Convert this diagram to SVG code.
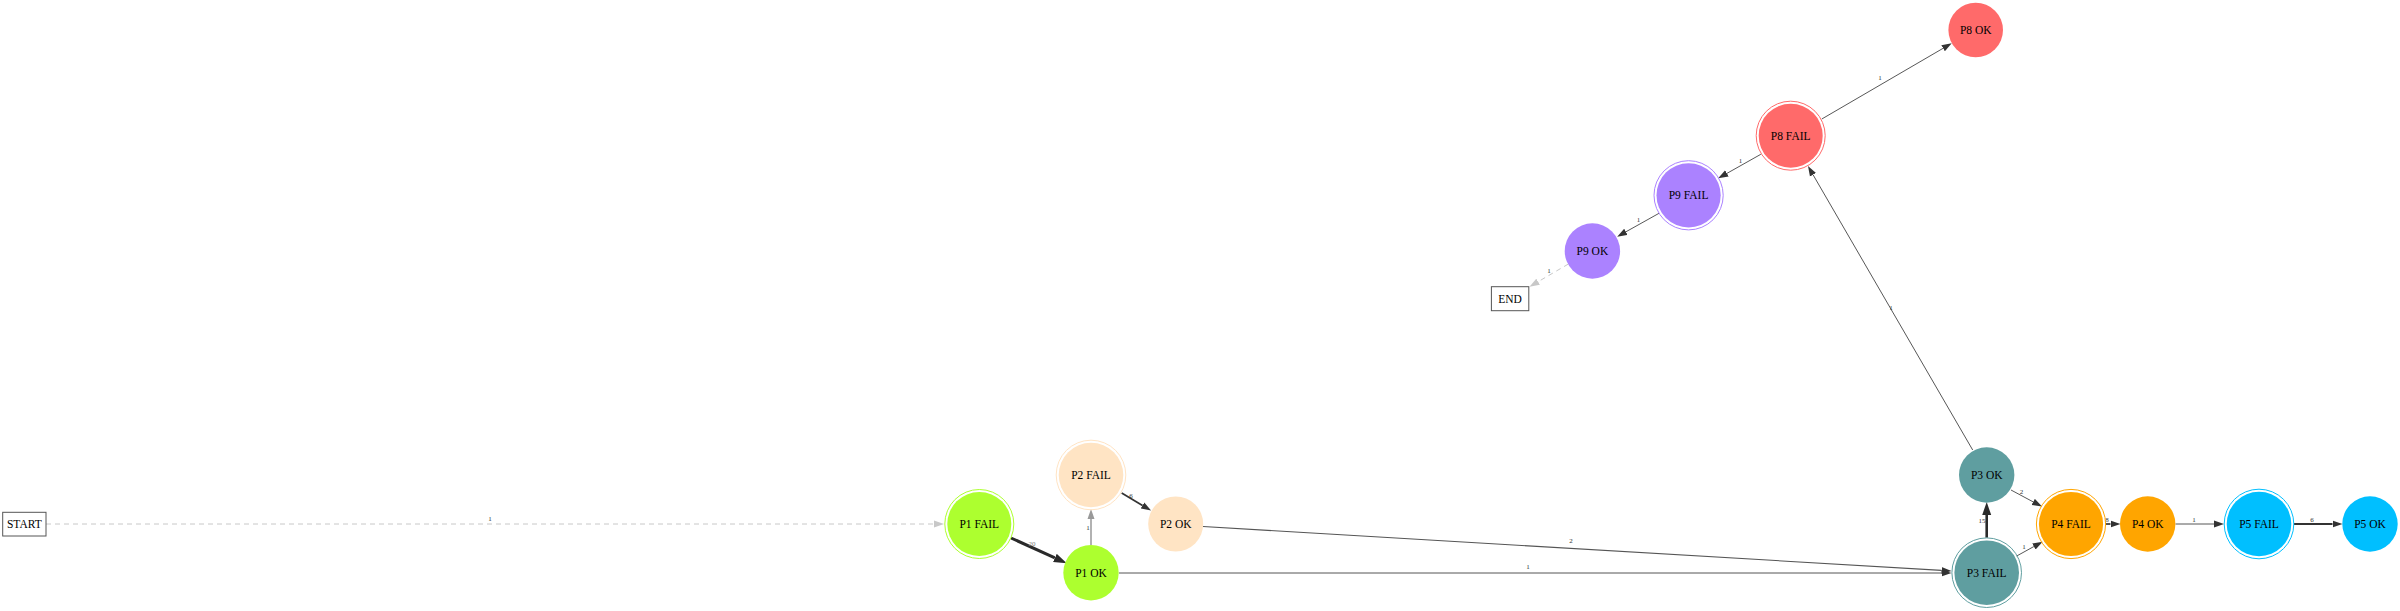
<svg xmlns="http://www.w3.org/2000/svg" width="2400" height="611" viewBox="0 0 2400 611">
<style>
  .lbl { font-family: "Liberation Serif", "Times New Roman", serif; font-size: 11.5px; fill: #000; text-anchor: middle; dominant-baseline: central; }
  .el { font-family: "Liberation Serif", "Times New Roman", serif; font-size: 7px; fill: #333; text-anchor: middle; }
  .e { fill: none; stroke: #444; stroke-width: 0.9; }
  .dash { fill: none; stroke: #c8c8c8; stroke-width: 1; stroke-dasharray: 5 4; }
  .box { fill: #fff; stroke: #555; stroke-width: 1; }
  .ring { fill: none; stroke-width: 1; }
</style>
<defs>
  <marker id="arr" markerUnits="userSpaceOnUse" markerWidth="10" markerHeight="8" refX="0" refY="3.5" orient="auto" viewBox="0 0 10 7">
    <path d="M0,0 L10,3.5 L0,7 Z" fill="#333"/>
  </marker>
  <marker id="arrL" markerUnits="userSpaceOnUse" markerWidth="13" markerHeight="10" refX="0" refY="4.5" orient="auto" viewBox="0 0 13 9">
    <path d="M0,0 L13,4.5 L0,9 Z" fill="#2a2a2a"/>
  </marker>
  <marker id="arrG" markerUnits="userSpaceOnUse" markerWidth="10" markerHeight="8" refX="0" refY="3.5" orient="auto" viewBox="0 0 10 7">
    <path d="M0,0 L10,3.5 L0,7 Z" fill="#999"/>
  </marker>
  <marker id="arrD" markerUnits="userSpaceOnUse" markerWidth="10" markerHeight="8" refX="0" refY="3.5" orient="auto" viewBox="0 0 10 7">
    <path d="M0,0 L10,3.5 L0,7 Z" fill="#c8c8c8"/>
  </marker>
</defs>
<rect width="2400" height="611" fill="#fff"/>

<g id="connectors">
  <path class="dash" d="M46,524 L934,524" marker-end="url(#arrD)"/>
  <text class="el" x="490" y="521">1</text>

  <path class="e" style="stroke-width:3;stroke:#2a2a2a" d="M1011,538 L1054.9,557.9" marker-end="url(#arrL)"/>
  <text class="el" x="1032" y="546" style="fill:#777">20</text>

  <path class="e" style="stroke:#999;stroke-width:1.5" d="M1091,545 L1091,519" marker-end="url(#arrG)"/>
  <text class="el" x="1088" y="530">1</text>

  <path class="e" style="stroke-width:1.7;stroke:#333" d="M1121.7,493 L1142.5,505.4" marker-end="url(#arr)"/>
  <text class="el" x="1131" y="498">6</text>

  <path class="e" style="stroke:#555;stroke-width:1.1" d="M1203,526.5 L1941.5,570.4" marker-end="url(#arr)"/>
  <text class="el" x="1571" y="543">2</text>

  <path class="e" style="stroke:#555;stroke-width:1" d="M1119,573 L1941.5,573" marker-end="url(#arr)"/>
  <text class="el" x="1528" y="569">1</text>

  <path class="e" style="stroke-width:2.6;stroke:#2a2a2a" d="M1986.7,537.7 L1986.7,515" marker-end="url(#arrL)"/>
  <text class="el" x="1982" y="523">15</text>

  <path class="e" d="M2011,490 L2033.2,501.9" marker-end="url(#arr)"/>
  <text class="el" x="2021.5" y="494">2</text>

  <path class="e" d="M2016.7,556 L2033.9,546.5" marker-end="url(#arr)"/>
  <text class="el" x="2024" y="548.5">1</text>

  <path class="e" style="stroke-width:1.7;stroke:#333" d="M2106,524 L2110.5,524" marker-end="url(#arr)"/>
  <text class="el" x="2107" y="522">8</text>

  <path class="e" d="M2175.5,524 L2214,524" marker-end="url(#arr)"/>
  <text class="el" x="2194" y="522">1</text>

  <path class="e" style="stroke-width:1.9;stroke:#333" d="M2294,524 L2332.5,524" marker-end="url(#arr)"/>
  <text class="el" x="2312" y="522">6</text>

  <path class="e" d="M1972.7,450 L1813,174.7" marker-end="url(#arr)"/>
  <text class="el" x="1891" y="310">1</text>

  <path class="e" d="M1821.8,119 L1943.1,48.3" marker-end="url(#arr)"/>
  <text class="el" x="1880" y="80">1</text>

  <path class="e" d="M1760.8,154.3 L1726.9,173.4" marker-end="url(#arr)"/>
  <text class="el" x="1740.5" y="163">1</text>

  <path class="e" d="M1659,213.3 L1625.9,231.8" marker-end="url(#arr)"/>
  <text class="el" x="1638.5" y="222">1</text>

  <path class="dash" d="M1568.4,264 L1538.1,281.7" marker-end="url(#arrD)"/>
  <text class="el" x="1549" y="273">1</text>
</g>

<g id="START">
  <rect class="box" x="2.7" y="512.3" width="43.3" height="23.7"/>
  <text class="lbl" x="24.3" y="524.2">START</text>
</g>
<g id="END">
  <rect class="box" x="1491.4" y="286.7" width="37.4" height="24"/>
  <text class="lbl" x="1510.1" y="298.7">END</text>
</g>

<g id="P1_FAIL">
  <circle class="ring" cx="979.3" cy="524" r="34.5" stroke="#ADFF2F"/>
  <circle cx="979.3" cy="524" r="32" fill="#ADFF2F"/>
  <text class="lbl" x="979.3" y="524">P1 FAIL</text>
</g>
<g id="P1_OK">
  <circle cx="1091" cy="572.7" r="27.7" fill="#ADFF2F"/>
  <text class="lbl" x="1091" y="572.7">P1 OK</text>
</g>
<g id="P2_FAIL">
  <circle class="ring" cx="1091" cy="475" r="34.8" stroke="#FFE4C4"/>
  <circle cx="1091" cy="475" r="32.3" fill="#FFE4C4"/>
  <text class="lbl" x="1091" y="475">P2 FAIL</text>
</g>
<g id="P2_OK">
  <circle cx="1175.7" cy="524" r="27.5" fill="#FFE4C4"/>
  <text class="lbl" x="1175.7" y="524">P2 OK</text>
</g>
<g id="P3_FAIL">
  <circle class="ring" cx="1986.7" cy="572.7" r="34.8" stroke="#5F9EA0"/>
  <circle cx="1986.7" cy="572.7" r="32.3" fill="#5F9EA0"/>
  <text class="lbl" x="1986.7" y="572.7">P3 FAIL</text>
</g>
<g id="P3_OK">
  <circle cx="1986.7" cy="475" r="27.7" fill="#5F9EA0"/>
  <text class="lbl" x="1986.7" y="475">P3 OK</text>
</g>
<g id="P4_FAIL">
  <circle class="ring" cx="2071" cy="524" r="34.6" stroke="#FFA500"/>
  <circle cx="2071" cy="524" r="32.1" fill="#FFA500"/>
  <text class="lbl" x="2071" y="524">P4 FAIL</text>
</g>
<g id="P4_OK">
  <circle cx="2147.7" cy="524" r="27.7" fill="#FFA500"/>
  <text class="lbl" x="2147.7" y="524">P4 OK</text>
</g>
<g id="P5_FAIL">
  <circle class="ring" cx="2259" cy="524" r="34.8" stroke="#00BFFF"/>
  <circle cx="2259" cy="524" r="32.3" fill="#00BFFF"/>
  <text class="lbl" x="2259" y="524">P5 FAIL</text>
</g>
<g id="P5_OK">
  <circle cx="2370" cy="524" r="27.7" fill="#00BFFF"/>
  <text class="lbl" x="2370" y="524">P5 OK</text>
</g>
<g id="P8_FAIL">
  <circle class="ring" cx="1790.7" cy="135.7" r="34.5" stroke="#FF6A6A"/>
  <circle cx="1790.7" cy="135.7" r="32" fill="#FF6A6A"/>
  <text class="lbl" x="1790.7" y="135.7">P8 FAIL</text>
</g>
<g id="P8_OK">
  <circle cx="1975.7" cy="30" r="27.3" fill="#FF6A6A"/>
  <text class="lbl" x="1975.7" y="30">P8 OK</text>
</g>
<g id="P9_FAIL">
  <circle class="ring" cx="1688.6" cy="195.3" r="34.6" stroke="#AB82FF"/>
  <circle cx="1688.6" cy="195.3" r="32.1" fill="#AB82FF"/>
  <text class="lbl" x="1688.6" y="195.3">P9 FAIL</text>
</g>
<g id="P9_OK">
  <circle cx="1592.4" cy="251" r="27.7" fill="#AB82FF"/>
  <text class="lbl" x="1592.4" y="251">P9 OK</text>
</g>
</svg>
